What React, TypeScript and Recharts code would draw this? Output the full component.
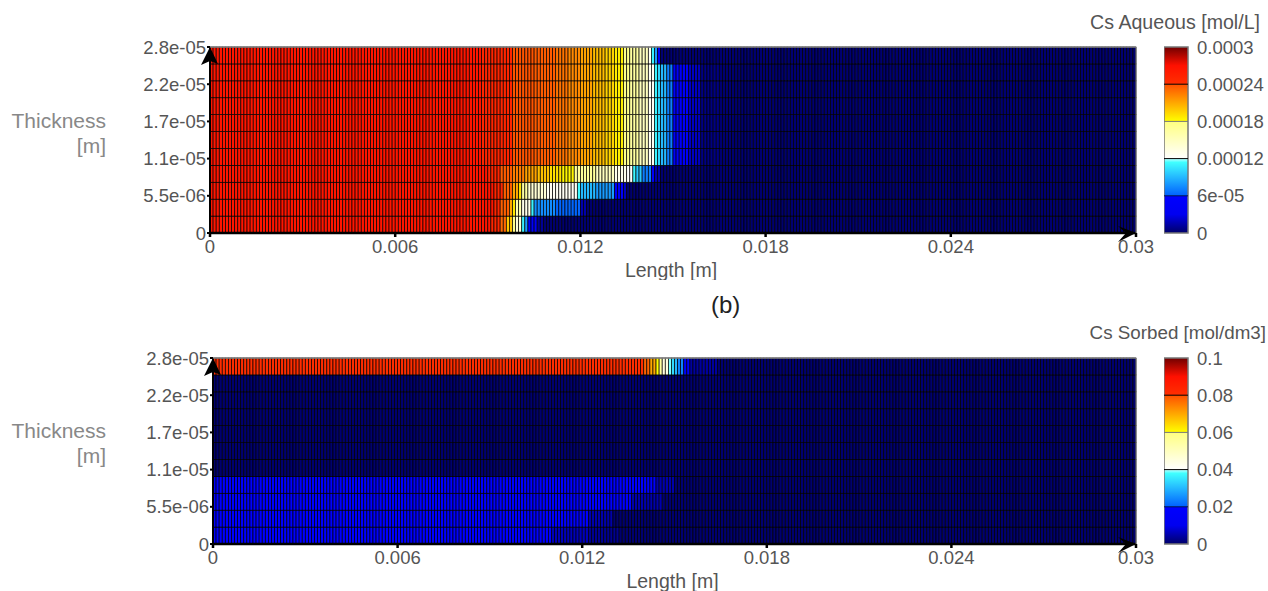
import { Bar, BarChart, ReferenceLine, Scatter, ScatterChart, XAxis, YAxis } from "recharts";

const font = "'Liberation Sans', Arial, sans-serif";
const textColor = "#555";

// mesh of the simulation
const columnCount = 300;
const rowCount = 11;
const lengthMax = 0.03;
const thicknessMax = 2.8e-5;

const lengthTicks = [0, 0.006, 0.012, 0.018, 0.024, 0.03];
const thicknessTicks = [0, 5.6e-6, 1.12e-5, 1.68e-5, 2.24e-5, 2.8e-5];
const thicknessLabels = ["0", "5.5e-06", "1.1e-05", "1.7e-05", "2.2e-05", "2.8e-05"];

const aqueousBarTicks = [0, 6e-5, 0.00012, 0.00018, 0.00024, 0.0003];
const aqueousBarLabels = ["0", "6e-05", "0.00012", "0.00018", "0.00024", "0.0003"];
const sorbedBarTicks = [0, 0.02, 0.04, 0.06, 0.08, 0.1];
const sorbedBarLabels = ["0", "0.02", "0.04", "0.06", "0.08", "0.1"];

// each run is [column where it ends, value], rows are listed bottom to top
type Run = [number, number];

const aqueousRow0: Run[] = [[91, 0.000265], [94, 0.00025], [96, 0.000232], [98, 0.0002], [99, 0.000175], [101, 0.00014], [102, 0.00011], [103, 0.00008], [106, 0.00005], [108, 0.00001], [300, 0.0000015]];
const aqueousRow1: Run[] = [[92, 0.000265], [94, 0.00025], [97, 0.000235], [98, 0.00021], [99, 0.000188], [101, 0.00016], [104, 0.00013], [105, 0.00011], [112, 0.000075], [120, 0.000062], [122, 0.000015], [300, 0.0000015]];
const aqueousRow2: Run[] = [[92, 0.000265], [95, 0.00025], [98, 0.000235], [100, 0.00021], [101, 0.00019], [103, 0.000165], [109, 0.00014], [119, 0.000125], [120, 0.000112], [125, 0.00009], [131, 0.00008], [134, 0.00005], [135, 0.00002], [300, 0.0000015]];
const aqueousRow3: Run[] = [[90, 0.000265], [94, 0.00025], [98, 0.000236], [102, 0.000225], [106, 0.000212], [110, 0.000202], [114, 0.000191], [118, 0.000183], [125, 0.000168], [131, 0.00015], [135, 0.00013], [137, 0.000122], [138, 0.000112], [140, 0.000095], [143, 0.00007], [144, 0.00005], [146, 0.000015], [300, 0.0000015]];
const aqueousMiddle: Run[] = [[88, 0.000265], [98, 0.00025], [105, 0.000239], [112, 0.000236], [116, 0.000228], [120, 0.00022], [124, 0.000212], [128, 0.000203], [131, 0.000195], [134, 0.000186], [136, 0.000175], [139, 0.000165], [142, 0.00015], [144, 0.000125], [145, 0.00011], [146, 0.0001], [148, 0.00009], [150, 0.00007], [155, 0.00005], [159, 0.00002], [165, 0.000006], [300, 0.000002]];
const aqueousTop: Run[] = [[88, 0.000265], [98, 0.00025], [105, 0.000239], [112, 0.000236], [116, 0.000228], [120, 0.00022], [124, 0.000212], [128, 0.000203], [131, 0.000195], [134, 0.000186], [136, 0.000175], [139, 0.000165], [142, 0.00015], [143, 0.000125], [144, 0.00011], [145, 0.00008], [146, 0.00004], [300, 0.000002]];
const aqueousRows = [aqueousRow0, aqueousRow1, aqueousRow2, aqueousRow3, aqueousMiddle, aqueousMiddle, aqueousMiddle, aqueousMiddle, aqueousMiddle, aqueousMiddle, aqueousTop];

const sorbedRow0: Run[] = [[110, 0.0195], [122, 0.006], [132, 0.003], [300, 0.0005]];
const sorbedRow1: Run[] = [[122, 0.0195], [130, 0.005], [300, 0.0005]];
const sorbedRow2: Run[] = [[136, 0.0195], [146, 0.005], [300, 0.0005]];
const sorbedRow3: Run[] = [[144, 0.0195], [150, 0.005], [300, 0.0005]];
const sorbedNavy: Run[] = [[300, 0.0005]];
const sorbedTop: Run[] = [[140, 0.081], [142, 0.078], [144, 0.07], [145, 0.06], [146, 0.055], [148, 0.045], [149, 0.039], [150, 0.034], [151, 0.03], [153, 0.024], [155, 0.015], [164, 0.004], [300, 0.0005]];
const sorbedRows = [sorbedRow0, sorbedRow1, sorbedRow2, sorbedRow3, sorbedNavy, sorbedNavy, sorbedNavy, sorbedNavy, sorbedNavy, sorbedNavy, sorbedTop];

// where the two axis arrows point
const lengthArrow = [{ length: lengthMax, thickness: 0 }];
const thicknessArrow = [{ length: 0, thickness: thicknessMax }];

// colour table, position along the bar (0-1) and rgb
const colorStops: [number, number, number, number][] = [
  [0, 0, 0, 104],
  [0.1, 0, 0, 240],
  [0.2, 0, 0, 255],
  [0.2001, 0, 96, 255],
  [0.38, 64, 255, 255],
  [0.3999, 192, 255, 255],
  [0.4, 255, 255, 255],
  [0.5999, 255, 255, 128],
  [0.6, 255, 255, 0],
  [0.7999, 255, 80, 0],
  [0.8, 255, 48, 0],
  [0.9, 255, 16, 0],
  [1, 112, 0, 0],
];

function colorAt(t: number) {
  for (let i = 1; i < colorStops.length; i++) {
    const a = colorStops[i - 1];
    const b = colorStops[i];
    if (t <= b[0]) {
      const f = (t - a[0]) / (b[0] - a[0]);
      const c = [1, 2, 3].map((k) => Math.round(a[k] + (b[k] - a[k]) * f));
      return `rgb(${c[0]},${c[1]},${c[2]})`;
    }
  }
  return "rgb(112,0,0)";
}

function buildCells(rows: Run[][]) {
  const cells: { length: number; thickness: number; value: number }[] = [];
  rows.forEach((runs, r) => {
    let c = 0;
    runs.forEach(([end, value]) => {
      for (; c < end; c++) {
        cells.push({
          length: ((c + 0.5) * lengthMax) / columnCount,
          thickness: ((r + 0.5) * thicknessMax) / rowCount,
          value,
        });
      }
    });
  });
  return cells;
}

const plotTop = 47;
const plotHeight = 186;
const plotRight = 1136;
const chartHeight = 280;
const axisHeight = 46;

function UpArrow({ cx, cy }: any) {
  return <polygon points={`${cx},${cy} ${cx + 8},${cy + 17} ${cx},${cy + 14} ${cx - 9},${cy + 18}`} fill="#000" />;
}

function RightArrow({ cx, cy }: any) {
  return <polygon points={`${cx},${cy} ${cx - 18},${cy - 7} ${cx - 10},${cy} ${cx - 18},${cy + 9}`} fill="#000" />;
}

function Heat({ rows, vmax, plotLeft }: { rows: Run[][]; vmax: number; plotLeft: number }) {
  const cellW = (plotRight - plotLeft) / columnCount;
  const cellH = plotHeight / rowCount;
  return (
    <ScatterChart
      width={1268}
      height={chartHeight}
      margin={{ top: plotTop, right: 1268 - plotRight, left: 0, bottom: chartHeight - plotTop - plotHeight - axisHeight }}
    >
      <XAxis
        type="number"
        dataKey="length"
        domain={[0, lengthMax]}
        ticks={lengthTicks}
        interval={0}
        height={axisHeight}
        stroke="#000"
        strokeWidth={2.5}
        tickSize={4}
        tickMargin={3}
        tick={{ fill: textColor, fontSize: 18.5, fontFamily: font }}
        label={{ value: "Length [m]", position: "insideBottom", offset: 2, fill: textColor, fontSize: 19.5, fontFamily: font, dx: -2 }}
        zIndex={1000}
      />
      <YAxis
        type="number"
        dataKey="thickness"
        domain={[0, thicknessMax]}
        ticks={thicknessTicks}
        interval={0}
        width={plotLeft}
        stroke="#000"
        strokeWidth={2}
        tickSize={3}
        tickMargin={1}
        tick={{ fill: textColor, fontSize: 18.5, fontFamily: font }}
        tickFormatter={(v: number) => thicknessLabels[thicknessTicks.indexOf(v)]}
        zIndex={1000}
      />
      <Scatter
        data={buildCells(rows)}
        isAnimationActive={false}
        shape={(p: any) => (
          <rect
            x={p.cx - cellW / 2}
            y={p.cy - cellH / 2}
            width={cellW}
            height={cellH}
            fill={colorAt(p.payload.value / vmax)}
            stroke="#000"
            strokeWidth={0.7}
          />
        )}
      />
      <ReferenceLine y={thicknessMax} stroke="#888" strokeWidth={1.5} zIndex={1000} />
      <ReferenceLine x={lengthMax} stroke="#777" strokeWidth={1} zIndex={1000} />
      <Scatter data={thicknessArrow} isAnimationActive={false} shape={UpArrow} zIndex={1100} />
      <Scatter data={lengthArrow} isAnimationActive={false} shape={RightArrow} zIndex={1100} />
    </ScatterChart>
  );
}

function ColorBar({ id, ticks, labels }: { id: string; ticks: number[]; labels: string[] }) {
  const vmax = ticks[ticks.length - 1];
  return (
    <BarChart
      width={104}
      height={chartHeight}
      data={[{ name: "range", top: vmax }]}
      margin={{ top: plotTop, right: 0, left: 0, bottom: chartHeight - plotTop - plotHeight }}
      barCategoryGap={0}
    >
      <defs>
        <linearGradient id={id} x1="0" y1="1" x2="0" y2="0">
          {colorStops.map(([t, r, g, b]) => (
            <stop key={t} offset={t} stopColor={`rgb(${r},${g},${b})`} />
          ))}
        </linearGradient>
      </defs>
      <XAxis dataKey="name" hide />
      <YAxis
        orientation="right"
        type="number"
        domain={[0, vmax]}
        ticks={ticks}
        interval={0}
        width={80}
        axisLine={false}
        tickLine={false}
        tickMargin={3}
        tick={{ fill: textColor, fontSize: 18.5, fontFamily: font, textAnchor: "start" }}
        tickFormatter={(v: number) => labels[ticks.indexOf(v)]}
      />
      <Bar dataKey="top" fill={`url(#${id})`} stroke="#777" strokeWidth={1.5} isAnimationActive={false} />
      {ticks.slice(1, -1).map((t, i) => (
        <ReferenceLine key={t} y={t} stroke={["#001050", "#000", "#777", "#000"][i]} strokeWidth={1} />
      ))}
    </BarChart>
  );
}

function Panel({ top, rows, plotLeft, title, titleSize, titleRight, labelTop, barId, barTicks, barLabels }: {
  top: number;
  rows: Run[][];
  plotLeft: number;
  title: string;
  titleSize: number;
  titleRight: number;
  labelTop: number;
  barId: string;
  barTicks: number[];
  barLabels: string[];
}) {
  return (
    <div style={{ position: "absolute", left: 0, top, width: 1268, height: chartHeight }}>
      <Heat rows={rows} vmax={barTicks[barTicks.length - 1]} plotLeft={plotLeft} />
      <div style={{ position: "absolute", left: 1164, top: 0 }}>
        <ColorBar id={barId} ticks={barTicks} labels={barLabels} />
      </div>
      <div style={{ position: "absolute", right: 1268 - titleRight, top: 11, fontFamily: font, fontSize: titleSize, color: textColor, whiteSpace: "nowrap" }}>
        {title}
      </div>
      <div style={{ position: "absolute", right: 1268 - 106, top: labelTop, textAlign: "right", fontFamily: font, fontSize: 21, lineHeight: "25px", color: "#888" }}>
        Thickness
        <br />
        [m]
      </div>
    </div>
  );
}

export default function App() {
  return (
    <div style={{ position: "fixed", left: 0, top: 0, width: 1268, height: 591, background: "#fff", overflow: "hidden" }}>
      <Panel top={0} rows={aqueousRows} plotLeft={210} title="Cs Aqueous [mol/L]" titleSize={19.6} titleRight={1260} labelTop={108} barId="aqueousBar" barTicks={aqueousBarTicks} barLabels={aqueousBarLabels} />
      <Panel top={311} rows={sorbedRows} plotLeft={213} title="Cs Sorbed [mol/dm3]" titleSize={18.8} titleRight={1266} labelTop={107} barId="sorbedBar" barTicks={sorbedBarTicks} barLabels={sorbedBarLabels} />
      <div style={{ position: "absolute", left: 711, top: 291, fontFamily: font, fontSize: 24, color: "#222" }}>(b)</div>
    </div>
  );
}
